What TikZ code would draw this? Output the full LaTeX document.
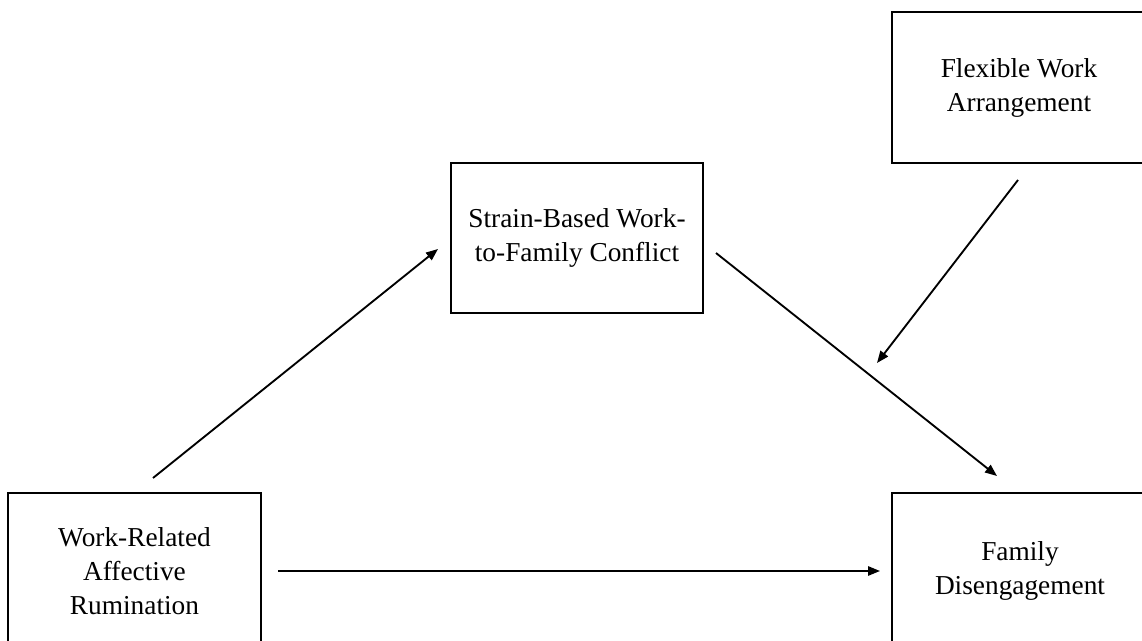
\documentclass[tikz,border=0pt]{standalone}
\usepackage{fontspec}
\setmainfont{Liberation Serif}
\usetikzlibrary{arrows.meta}
\tikzset{
  varbox/.style={draw=black, line width=1.8pt, inner sep=0pt, align=center,
    font=\fontsize{20.5}{25.5}\selectfont},
  path arrow/.style={draw=black, line width=1.4pt,
    -{Triangle[length=9pt,width=7pt]}}
}
\begin{document}
\begin{tikzpicture}[x=0.75pt,y=-0.75pt]
\useasboundingbox (0,0) rectangle (1142,641);
\clip (0,0) rectangle (1142,641);
\fill[white] (0,0) rectangle (1142,641);
\node[varbox, minimum width=189.75pt, minimum height=117pt] (rum) at (134.5,571) {Work-Related\\Affective\\Rumination};
\node[varbox, minimum width=192pt, minimum height=117pt] (fam) at (1020,571) {Family\\Disengagement};
\node[varbox, minimum width=190.5pt, minimum height=113.25pt] (flex) at (1019,87.5) {Flexible Work\\Arrangement};
\node[varbox, minimum width=189pt, minimum height=112.5pt] (sbc) at (577,238) {Strain-Based Work-\\to-Family Conflict};
\coordinate (a1s) at (153,478);
\coordinate (a1e) at (438,249);
\coordinate (a2s) at (716,253);
\coordinate (a2e) at (997,476);
\coordinate (a3s) at (1018,180);
\coordinate (a3e) at (877,363);
\coordinate (a4s) at (278,571);
\coordinate (a4e) at (880,571);
\draw[path arrow] (a1s) -- (a1e);
\draw[path arrow] (a2s) -- (a2e);
\draw[path arrow] (a3s) -- (a3e);
\draw[path arrow] (a4s) -- (a4e);
\end{tikzpicture}
\end{document}
